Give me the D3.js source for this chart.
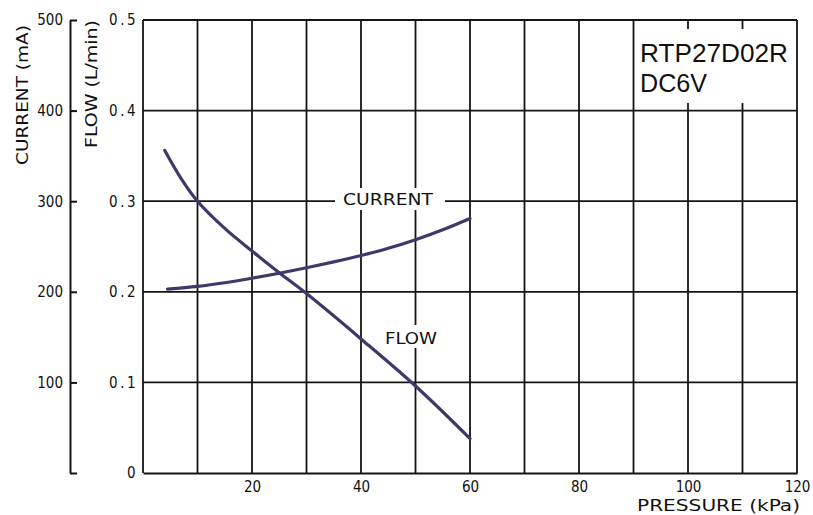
<!DOCTYPE html>
<html>
<head>
<meta charset="utf-8">
<script src="https://cdn.jsdelivr.net/npm/d3@7"></script>
<style>
  body { margin: 0; background: #fff; }
  text { font-family: "DejaVu Sans Condensed", "Liberation Sans Narrow", "DejaVu Sans", sans-serif; fill: #111; }
</style>
</head>
<body>
<div id="chart"></div>
<script>
// pressure (kPa) vs flow (L/min)
const flowPressure = [4, 7, 10, 15, 20, 25, 30, 40, 50, 60];
const flowValues   = [0.356, 0.325, 0.300, 0.270, 0.245, 0.221, 0.198, 0.148, 0.096, 0.038];

// pressure (kPa) vs current (mA)
const curPressure = [4.5, 10, 15, 20, 25, 30, 35, 40, 45, 50, 55, 60];
const curValues   = [203, 206, 210, 215, 220.5, 226.5, 233, 240, 248, 257.5, 268.5, 281];

const xTicks = [20, 40, 60, 80, 100, 120];
const flowTicks = [0, 0.1, 0.2, 0.3, 0.4, 0.5];
const curTicks = [0, 100, 200, 300, 400, 500];
const xGrid = [10, 20, 30, 40, 50, 60, 70, 80, 90, 100, 110, 120];

const w = 813;
const h = 515;
const padL = 143, padR = 797, padT = 20, padB = 473;

const x = d3.scaleLinear().domain([0, 120]).range([padL, padR]);
const yFlow = d3.scaleLinear().domain([0, 0.5]).range([padB, padT]);
const yCur = d3.scaleLinear().domain([0, 500]).range([padB, padT]);

const svg = d3.select('#chart').append('svg')
  .attr('width', w)
  .attr('height', h);

const ink = '#141414';
const curveColor = '#3c3a6a';

// grid
svg.append('g').selectAll('line')
  .data(xGrid)
  .enter().append('line')
  .attr('x1', d => x(d)).attr('x2', d => x(d))
  .attr('y1', padT).attr('y2', padB)
  .attr('stroke', ink).attr('stroke-width', 1.8);

svg.append('g').selectAll('line')
  .data(flowTicks.slice(1))
  .enter().append('line')
  .attr('x1', padL).attr('x2', padR)
  .attr('y1', d => yFlow(d)).attr('y2', d => yFlow(d))
  .attr('stroke', ink).attr('stroke-width', 1.8);

// left border of plot
svg.append('line')
  .attr('x1', padL).attr('x2', padL)
  .attr('y1', padT).attr('y2', padB)
  .attr('stroke', ink).attr('stroke-width', 1.8);

// white patches behind the labels
svg.append('rect').attr('x', 636).attr('y', 29).attr('width', 159).attr('height', 74).attr('fill', '#fff');
svg.append('rect').attr('x', 335).attr('y', 188).attr('width', 110).attr('height', 22).attr('fill', '#fff');
svg.append('rect').attr('x', 380).attr('y', 325).attr('width', 62).attr('height', 23).attr('fill', '#fff');

// bottom axis
const xAxis = d3.axisBottom(x).tickValues(xTicks).tickSize(0).tickPadding(8);
const gx = svg.append('g')
  .attr('transform', 'translate(0,' + padB + ')')
  .call(xAxis);
gx.select('.domain').attr('stroke', ink).attr('stroke-width', 2);
gx.selectAll('text').style('font-size', '15px').attr('fill', ink);

// flow axis
const flowAxis = d3.axisLeft(yFlow).tickValues(flowTicks).tickSize(0).tickPadding(5)
  .tickFormat(d => d === 0 ? '0' : d3.format('.1f')(d));
const gf = svg.append('g')
  .attr('transform', 'translate(' + padL + ',0)')
  .call(flowAxis);
gf.select('.domain').remove();
gf.selectAll('text').style('font-size', '15px').style('letter-spacing', '2.5px').attr('fill', ink);

// current axis
const curAxis = d3.axisLeft(yCur).tickValues(curTicks).tickSizeInner(-7).tickSizeOuter(0).tickPadding(7)
  .tickFormat(d => d === 0 ? '' : d);
const gc = svg.append('g')
  .attr('transform', 'translate(70,0)')
  .call(curAxis);
gc.selectAll('path, line').attr('stroke', ink).attr('stroke-width', 2);
gc.selectAll('text').style('font-size', '15px').attr('fill', ink);

// curves
const line = d3.line().curve(d3.curveCatmullRom.alpha(0.5));

svg.append('path')
  .datum(flowPressure.map((p, i) => [x(p), yFlow(flowValues[i])]))
  .attr('d', line)
  .attr('fill', 'none')
  .attr('stroke', curveColor)
  .attr('stroke-width', 3.2)
  .attr('stroke-linecap', 'round');

svg.append('path')
  .datum(curPressure.map((p, i) => [x(p), yCur(curValues[i])]))
  .attr('d', line)
  .attr('fill', 'none')
  .attr('stroke', curveColor)
  .attr('stroke-width', 3.2)
  .attr('stroke-linecap', 'round');

// labels
svg.append('text').text('CURRENT')
  .attr('x', 343).attr('y', 205)
  .attr('textLength', 90).attr('lengthAdjust', 'spacingAndGlyphs')
  .style('font-size', '16px');

svg.append('text').text('FLOW')
  .attr('x', 385).attr('y', 344)
  .attr('textLength', 52).attr('lengthAdjust', 'spacingAndGlyphs')
  .style('font-size', '16px');

svg.append('text').text('RTP27D02R')
  .attr('x', 640).attr('y', 62)
  .attr('textLength', 148).attr('lengthAdjust', 'spacingAndGlyphs')
  .style('font-family', '"Liberation Sans", Arial, sans-serif')
  .style('font-size', '26px');

svg.append('text').text('DC6V')
  .attr('x', 640).attr('y', 92)
  .attr('textLength', 67).attr('lengthAdjust', 'spacingAndGlyphs')
  .style('font-family', '"Liberation Sans", Arial, sans-serif')
  .style('font-size', '26px');

svg.append('text').text('PRESSURE (kPa)')
  .attr('x', 637).attr('y', 511)
  .attr('textLength', 163).attr('lengthAdjust', 'spacingAndGlyphs')
  .style('font-size', '16px');

svg.append('text').text('CURRENT (mA)')
  .attr('transform', 'translate(28,165) rotate(-90)')
  .attr('textLength', 140).attr('lengthAdjust', 'spacingAndGlyphs')
  .style('font-size', '16px');

svg.append('text').text('FLOW (L/min)')
  .attr('transform', 'translate(97,148) rotate(-90)')
  .attr('textLength', 128).attr('lengthAdjust', 'spacingAndGlyphs')
  .style('font-size', '16px');
</script>
</body>
</html>
